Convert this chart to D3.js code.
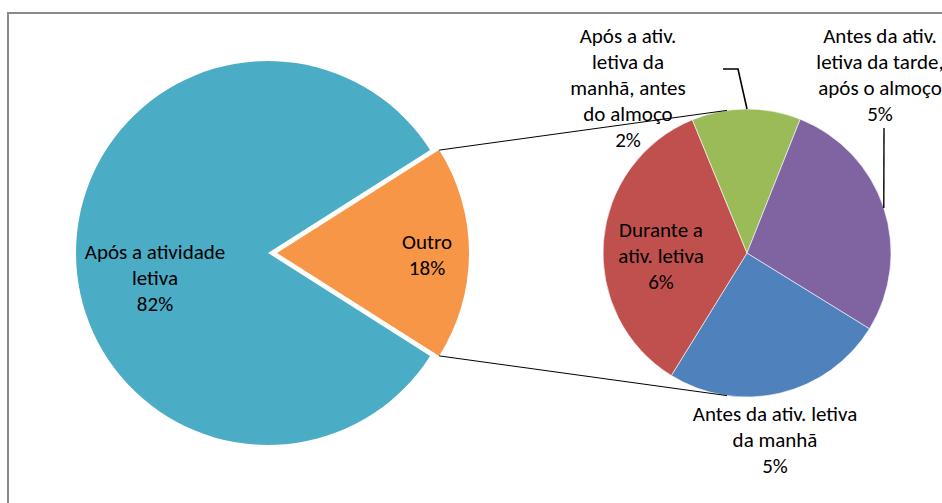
<!DOCTYPE html>
<html lang="pt">
<head>
<meta charset="UTF-8">
<title>Momento do dia</title>
<script src="https://d3js.org/d3.v7.min.js"></script>
<style>
  html, body { margin: 0; padding: 0; background: #fff; }
  svg { display: block; }
  text { font-family: Carlito, Calibri, Lato, sans-serif; font-size: 21px; fill: #000; }
</style>
</head>
<body>
<svg id="chart" width="942" height="503"></svg>
<script>
// main pie
const mainLabels = ["Após a atividade letiva", "Outro"];
const mainValues = [82, 18];
// secondary pie (breakdown of "Outro")
const subLabels = [
  "Antes da ativ. letiva da manhã",
  "Durante a ativ. letiva",
  "Após a ativ. letiva da manhã, antes do almoço",
  "Antes da ativ. letiva da tarde, após o almoço"
];
const subValues = [4.5, 6.3, 2.2, 5.0];

const mainColors = ["#4BACC6", "#F79646"];
const subColors = ["#4F81BD", "#C0504D", "#9BBB59", "#8064A2"];

const svg = d3.select("#chart");
const W = 942, H = 503;
const rad = d => d * Math.PI / 180;

// chart frame (only left and top edges are visible in the crop)
svg.append("path").attr("d", `M8,${H} V13 H${W}`)
  .attr("fill", "none").attr("stroke", "#898989").attr("stroke-width", 2);

// --- main pie ---
const mc = { x: 268, y: 253 }, mr = 192, explode = 9;
const outroShare = mainValues[1] / d3.sum(mainValues);
const mainStart = Math.PI / 2 + outroShare * Math.PI;
const mainPie = d3.pie().sort(null).startAngle(mainStart).endAngle(mainStart + 2 * Math.PI);
const mainArcs = mainPie(mainValues);
const mainArc = d3.arc().innerRadius(0).outerRadius(mr);

const gMain = svg.append("g").attr("transform", `translate(${mc.x},${mc.y})`);
gMain.selectAll("path").data(mainArcs).join("path")
  .attr("d", mainArc)
  .attr("fill", (d, i) => mainColors[i])
  .attr("transform", (d, i) => {
    if (i !== 1) return null;
    const a = (d.startAngle + d.endAngle) / 2;
    return `translate(${explode * Math.sin(a)},${-explode * Math.cos(a)})`;
  });

// --- secondary pie ---
const sc = { x: 747, y: 253 }, sr = 144;
const subStart = rad(121.7);
const subPie = d3.pie().sort(null).startAngle(subStart).endAngle(subStart + 2 * Math.PI);
const subArcs = subPie(subValues);
const subArc = d3.arc().innerRadius(0).outerRadius(sr);

const gSub = svg.append("g").attr("transform", `translate(${sc.x},${sc.y})`);
gSub.selectAll("path").data(subArcs).join("path")
  .attr("d", subArc)
  .attr("fill", (d, i) => subColors[i])
  .attr("stroke", "#fff").attr("stroke-width", 0.6);

// connector lines from "Outro" slice corners to the secondary pie
const outro = mainArcs[1];
const oa = (outro.startAngle + outro.endAngle) / 2;
const ox = mc.x + explode * Math.sin(oa), oy = mc.y - explode * Math.cos(oa);
const pt = (cx, cy, r, a) => [cx + r * Math.sin(a), cy - r * Math.cos(a)];
const conn = [
  [pt(ox, oy, mr, outro.startAngle), pt(sc.x, sc.y, sr, rad(-8))],
  [pt(ox, oy, mr, outro.endAngle), pt(sc.x, sc.y, sr, rad(188))]
];

// --- labels ---
const lineH = 26;
function wrap(str, maxW) {
  const probe = svg.append("text").attr("visibility", "hidden");
  const words = str.split(" ");
  const lines = [];
  let cur = "";
  words.forEach(w => {
    const test = cur ? cur + " " + w : w;
    probe.text(test);
    if (cur && probe.node().getComputedTextLength() > maxW) { lines.push(cur); cur = w; }
    else cur = test;
  });
  if (cur) lines.push(cur);
  probe.remove();
  return lines;
}
function label(x, y, name, value, maxW) {
  const lines = wrap(name, maxW).concat([Math.round(value) + "%"]);
  const t = svg.append("text").attr("text-anchor", "middle");
  lines.forEach((s, i) => t.append("tspan").attr("x", x).attr("y", y + i * lineH).text(s));
}

const mainTotal = d3.sum(mainValues);
const mainLabelPos = [{ x: 155, y: 259, w: 165 }, { x: 427, y: 249, w: 100 }];
mainLabels.forEach((n, i) => label(mainLabelPos[i].x, mainLabelPos[i].y, n, mainValues[i] / mainTotal * 100, mainLabelPos[i].w));

const subLabelPos = [
  { x: 775, y: 421, w: 176 },
  { x: 661, y: 237, w: 116 },
  { x: 628, y: 43, w: 125 },
  { x: 880, y: 43, w: 148 }
];
subLabels.forEach((n, i) => label(subLabelPos[i].x, subLabelPos[i].y, n, subValues[i], subLabelPos[i].w));

// leader lines for outside labels
const lead = d3.line();
svg.append("path").attr("d", lead([[723, 69], [738, 69], pt(sc.x, sc.y, sr, 0)]))
  .attr("fill", "none").attr("stroke", "#000").attr("stroke-width", 1.6);
svg.append("path").attr("d", lead([[884, 128], pt(sc.x, sc.y, sr, Math.acos((sc.y - 208) / sr))]))
  .attr("fill", "none").attr("stroke", "#000").attr("stroke-width", 1.4);

svg.selectAll(".conn").data(conn).join("path").attr("class", "conn")
  .attr("d", d => lead(d)).attr("fill", "none").attr("stroke", "#000").attr("stroke-width", 1);
</script>
</body>
</html>
